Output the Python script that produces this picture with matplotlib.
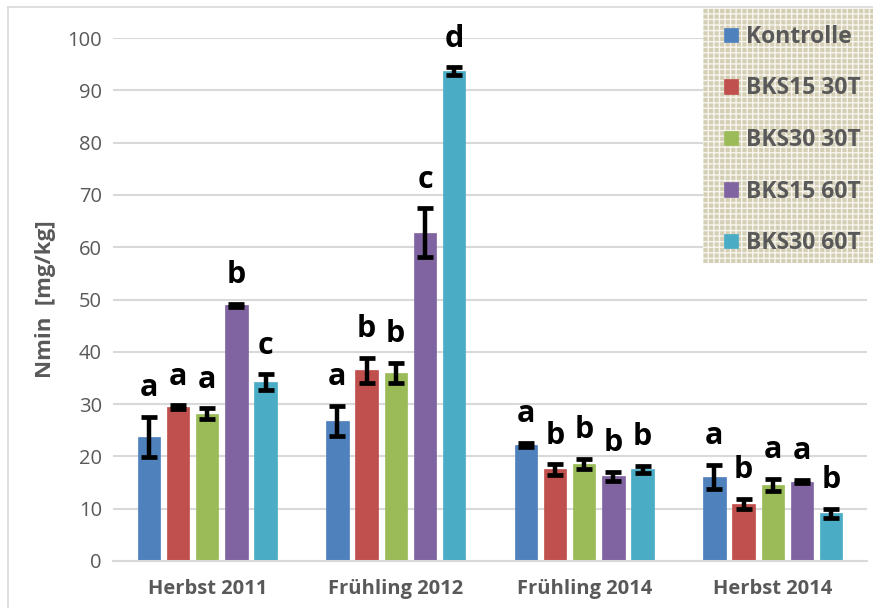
import numpy as np
import matplotlib
matplotlib.use("Agg")
import matplotlib.pyplot as plt
from matplotlib.patches import Rectangle
from matplotlib.lines import Line2D

categories = ["Herbst 2011", "Frühling 2012", "Frühling 2014", "Herbst 2014"]
series = ["Kontrolle", "BKS15 30T", "BKS30 30T", "BKS15 60T", "BKS30 60T"]
kontrolle = [23.7, 26.8, 22.2, 16.1]
bks15_30t = [29.4, 36.5, 17.5, 10.9]
bks30_30t = [28.2, 36.0, 18.5, 14.5]
bks15_60t = [48.9, 62.8, 16.2, 15.2]
bks30_60t = [34.2, 93.7, 17.5, 9.1]
err_kontrolle = [3.9, 2.9, 0.4, 2.3]
err_bks15_30t = [0.4, 2.4, 1.0, 1.0]
err_bks30_30t = [1.0, 1.9, 1.0, 1.2]
err_bks15_60t = [0.3, 4.6, 0.9, 0.3]
err_bks30_60t = [1.5, 0.7, 0.7, 0.9]
let_kontrolle = ["a", "a", "a", "a"]
let_bks15_30t = ["a", "b", "b", "b"]
let_bks30_30t = ["a", "b", "b", "a"]
let_bks15_60t = ["b", "c", "b", "a"]
let_bks30_60t = ["c", "d", "b", "b"]
y_ticks = [0, 10, 20, 30, 40, 50, 60, 70, 80, 90, 100]

values = [kontrolle, bks15_30t, bks30_30t, bks15_60t, bks30_60t]
errors = [err_kontrolle, err_bks15_30t, err_bks30_30t, err_bks15_60t, err_bks30_60t]
letters = [let_kontrolle, let_bks15_30t, let_bks30_30t, let_bks15_60t, let_bks30_60t]
colors = ["#4F81BD", "#C0504D", "#9BBB59", "#8064A2", "#4BACC6"]

FONT = "Open Sans"
TXT = "#595959"

fig = plt.figure(figsize=(8.73, 6.08), dpi=100)
W, H = 873, 608
ax = fig.add_axes([113 / W, 1 - 561 / H, (867 - 113) / W, (561 - 38) / H])

x = np.arange(len(categories))
pitch = 0.155
bw = 0.119
handles = []
for i, (vals, errs, lets, c) in enumerate(zip(values, errors, letters, colors)):
    pos = x + (i - 2) * pitch
    b = ax.bar(pos, vals, width=bw, color=c, edgecolor=c, linewidth=0.5, zorder=2, label=series[i])
    handles.append(b)
    ax.errorbar(pos, vals, yerr=errs, fmt="none", ecolor="black", elinewidth=3.2,
                capsize=6, capthick=3.4, zorder=3)
    for p, v, e, l in zip(pos, vals, errs, lets):
        ax.text(p, v + e + 2.6, l, ha="center", va="bottom", fontsize=22,
                fontweight="bold", family=FONT, color="black", clip_on=False, zorder=4)

ax.set_xlim(-0.5, 3.5)
ax.set_ylim(0, 100)
ax.set_yticks(y_ticks)
ax.set_yticklabels([str(t) for t in y_ticks], family=FONT, fontsize=14.5, color=TXT)
ax.set_xticks(x)
ax.set_xticklabels(categories, family=FONT, fontsize=14.5, fontweight="bold", color=TXT)
ax.tick_params(axis="both", length=0)
ax.tick_params(axis="y", pad=8)
ax.tick_params(axis="x", pad=13)
for s in ["left", "right", "top"]:
    ax.spines[s].set_visible(False)
ax.spines["bottom"].set_color("#D9D9D9")
ax.spines["bottom"].set_linewidth(1.5)
ax.grid(axis="y", color="#D9D9D9", linewidth=1.5, zorder=0)
ax.set_axisbelow(True)
ax.set_ylabel("Nmin  [mg/kg]", family=FONT, fontsize=16, fontweight="bold", color=TXT, labelpad=8)

# chart border (left & top)
fig.add_artist(Line2D([8 / W, 8 / W], [0, 1 - 7 / H], transform=fig.transFigure, color="#D9D9D9", lw=1.2))
fig.add_artist(Line2D([8 / W, 1], [1 - 7 / H, 1 - 7 / H], transform=fig.transFigure, color="#D9D9D9", lw=1.2))

# legend box with texture
plt.rcParams["hatch.color"] = "#F7F5EE"
plt.rcParams["hatch.linewidth"] = 1.0
rect = Rectangle((703 / W, 1 - 263 / H), (873 - 703) / W, (263 - 8) / H, transform=fig.transFigure,
                 facecolor="#D3CEB4", edgecolor="#F7F5EE", hatch="+++", linewidth=0, zorder=5)
fig.add_artist(rect)

leg = fig.legend(handles=handles, labels=series, loc="upper left",
                 bbox_to_anchor=(724 / W, 1 - 25 / H), frameon=False,
                 prop={"family": FONT, "weight": "bold", "size": 16.5},
                 handlelength=0.6, handleheight=0.6, handletextpad=0.35, labelspacing=1.2,
                 borderaxespad=0, borderpad=0)
leg.set_zorder(6)
for t in leg.get_texts():
    t.set_color(TXT)

fig.savefig("out.png", dpi=100)
